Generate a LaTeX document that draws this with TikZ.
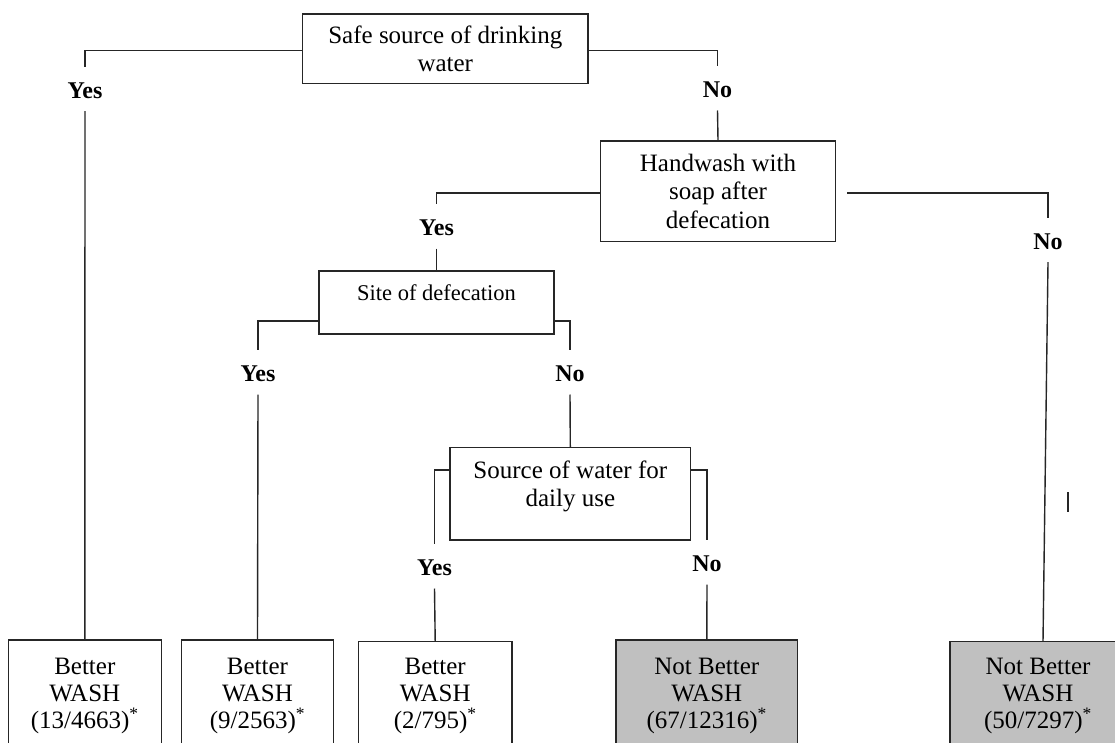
\documentclass[tikz,border=0pt]{standalone}
\usepackage{fontspec}
\setmainfont{Liberation Serif}
\definecolor{linec}{HTML}{262626}
\definecolor{leafgray}{HTML}{C0C0C0}
\tikzset{
  box/.style={draw=linec, line width=1.4pt, rectangle, inner sep=0pt, align=center, font=\fontsize{25}{28.5}\selectfont},
  boxtext/.style={inner sep=0pt, align=center, font=\fontsize{25}{28.5}\selectfont},
  sitetext/.style={inner sep=0pt, align=center, font=\fontsize{22.5}{26}\selectfont},
  leafbox/.style={draw=linec, line width=1.4pt, rectangle, inner sep=0pt, minimum height=140pt},
  greyleaf/.style={leafbox, fill=leafgray},
  leaftext/.style={align=center, inner sep=0pt, font=\fontsize{25}{27.3}\selectfont},
  lab/.style={font=\bfseries\fontsize{24}{24}\selectfont, inner sep=0pt, text height=31.6pt, text depth=12.4pt, anchor=base},
  conn/.style={draw=linec, line width=1.4pt},
}
\begin{document}
\begin{tikzpicture}[x=1pt,y=-1pt]
\useasboundingbox[fill=white] (0,0) rectangle (1115,743);

% decision boxes
\node[box, minimum width=285.3pt, minimum height=69.3pt] (top) at (445.3,48.7) {Safe source of drinking\\water};
\node[box, minimum width=234.6pt, minimum height=100.3pt] (hand) at (718,191.2) {Handwash with\\soap after\\defecation};
\node[box, minimum width=235pt, minimum height=63pt] (site) at (436.5,302.5) {};
\node[sitetext] (sitet) at (436.5,293) {Site of defecation};
\node[box, minimum width=240.7pt, minimum height=92.3pt] (src) at (570.3,493.8) {};
\node[boxtext] (srct) at (570.3,486.5) {Source of water for\\daily use};

% leaves
\node[leafbox, minimum width=153pt] (leaf1) at (84.8,710) {};
\node[leaftext] (leaf1t) at (84.8,696) {Better\\WASH\\(13/4663)\textsuperscript{*}};
\node[leafbox, minimum width=151.6pt] (leaf2) at (257.5,710) {};
\node[leaftext] (leaf2t) at (257.5,696) {Better\\WASH\\(9/2563)\textsuperscript{*}};
\node[leafbox, minimum width=153.7pt] (leaf3) at (435.2,711.7) {};
\node[leaftext] (leaf3t) at (435.2,696) {Better\\WASH\\(2/795)\textsuperscript{*}};
\node[greyleaf, minimum width=181.7pt] (leaf4) at (706.8,710) {};
\node[leaftext] (leaf4t) at (706.8,696) {Not Better\\WASH\\(67/12316)\textsuperscript{*}};
\node[greyleaf, minimum width=180pt] (leaf5) at (1040,711.7) {};
\node[leaftext] (leaf5t) at (1038,696) {Not Better\\WASH\\(50/7297)\textsuperscript{*}};

% branch labels
\node[lab] (ly1) at (85,98.6) {Yes};
\node[lab] (ln1) at (717.5,97.9) {No};
\node[lab] (ly2) at (436.5,235.9) {Yes};
\node[lab] (ln2) at (1048,249.6) {No};
\node[lab] (ly3) at (258,381.9) {Yes};
\node[lab] (ln3) at (570,381.9) {No};
\node[lab] (ly4) at (434.5,575.9) {Yes};
\node[lab] (ln4) at (707,571.9) {No};

% connectors
\draw[conn] ([yshift=-2pt]top.west) -| (ly1.north);
\draw[conn] (ly1.south) -- (leaf1.north);
\draw[conn] ([yshift=-2pt]top.east) -| (ln1.north);
\draw[conn] (ln1.south) -- (hand.north);
\draw[conn] ([yshift=-2pt]hand.west) -| (ly2.north);
\draw[conn] (ly2.south) -- (site.north);
\draw[conn] ([xshift=11.4pt,yshift=-2pt]hand.east) -| (ln2.north);
\draw[conn] (ln2.south) -- ([xshift=3pt]leaf5.north);
\draw[conn] ([yshift=-18.5pt]site.west) -| (ly3.north);
\draw[conn] (ly3.south) -- (leaf2.north);
\draw[conn] ([yshift=-18.5pt]site.east) -| (ln3.north);
\draw[conn] (ln3.south) -- (src.north);
\draw[conn] ([yshift=23.8pt]src.west) -| (ly4.north);
\draw[conn] (ly4.south) -- (leaf3.north);
\draw[conn] ([yshift=23.8pt]src.east) -| (ln4.north);
\draw[conn] (ln4.south) -- (leaf4.north);

% stray tick
\coordinate (tick1) at (1068,492);
\coordinate (tick2) at (1068,512);
\draw[conn] (tick1) -- (tick2);
\end{tikzpicture}
\end{document}
